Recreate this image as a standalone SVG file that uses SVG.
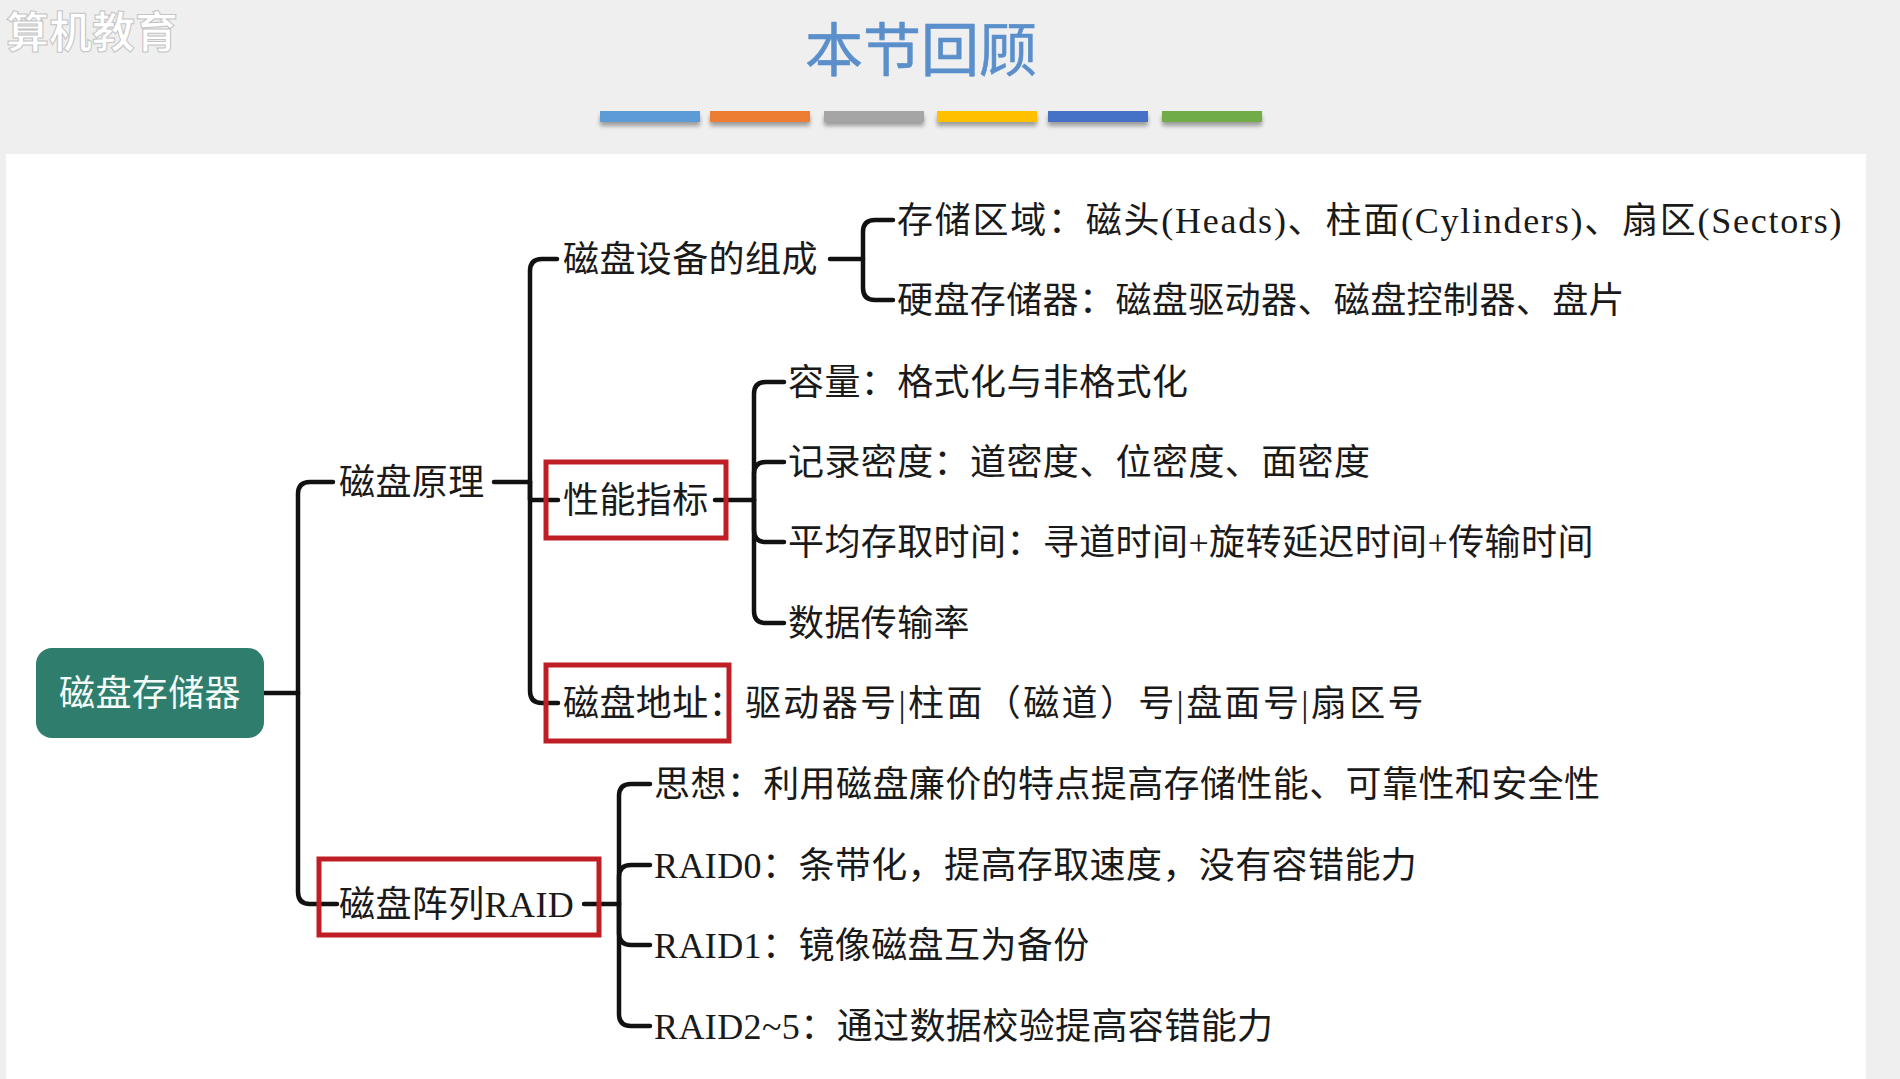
<svg xmlns="http://www.w3.org/2000/svg" width="1900" height="1079" viewBox="0 0 1900 1079">
<style>
.t{font-family:"Liberation Serif","Noto Sans CJK SC",serif;font-size:36px;fill:#1a1a1a;letter-spacing:0.4px}
.c{fill:none;stroke:#111;stroke-width:4.5;stroke-linecap:round;stroke-linejoin:round}
.box{fill:none;stroke:#bf1e24;stroke-width:5}
</style>
<defs>
<filter id="sh" x="-10%" y="-50%" width="120%" height="250%">
<feGaussianBlur in="SourceAlpha" stdDeviation="2"/>
<feOffset dy="4"/>
<feComponentTransfer><feFuncA type="linear" slope="0.35"/></feComponentTransfer>
<feMerge><feMergeNode/><feMergeNode in="SourceGraphic"/></feMerge>
</filter>
</defs>
<rect width="1900" height="1079" fill="#efefef"/>
<rect x="6" y="154" width="1860" height="925" fill="#ffffff"/>
<text x="6" y="48" style="font-family:'Noto Sans CJK SC',sans-serif;font-size:43px;font-weight:bold;fill:#ffffff;stroke:#c4c4c4;stroke-width:1">算机教育</text>
<text x="921" y="71" text-anchor="middle" style="font-family:'Noto Sans CJK SC',sans-serif;font-size:58px;fill:#5a8fcb;stroke:#5a8fcb;stroke-width:0.6">本节回顾</text>
<g id="bars" filter="url(#sh)">
<rect x="600" y="111" width="100" height="11" fill="#5b9bd5"/>
<rect x="710" y="111" width="100" height="11" fill="#ed7d31"/>
<rect x="824" y="111" width="100" height="11" fill="#a5a5a5"/>
<rect x="937" y="111" width="100" height="11" fill="#ffc000"/>
<rect x="1048" y="111" width="100" height="11" fill="#4472c4"/>
<rect x="1162" y="111" width="100" height="11" fill="#70ad47"/>
</g>
<g id="connectors">
<path class="c" d="M264,693 H298"/>
<path class="c" d="M298,693 V494 Q298,482 310,482 H333"/>
<path class="c" d="M298,693 V892 Q298,904 310,904 H337"/>
<path class="c" d="M494,482 H530"/>
<path class="c" d="M530,482 V271 Q530,259 542,259 H557"/>
<path class="c" d="M530,482 V500 H558"/>
<path class="c" d="M530,482 V691 Q530,703 542,703 H558"/>
<path class="c" d="M830,259 H863"/>
<path class="c" d="M863,259 V232 Q863,220 875,220 H893"/>
<path class="c" d="M863,259 V288 Q863,300 875,300 H893"/>
<path class="c" d="M715,500 H754"/>
<path class="c" d="M754,500 V394 Q754,382 766,382 H784"/>
<path class="c" d="M754,500 V474 Q754,462 766,462 H784"/>
<path class="c" d="M754,500 V530 Q754,542 766,542 H784"/>
<path class="c" d="M754,500 V611 Q754,623 766,623 H784"/>
<path class="c" d="M584,904 H619"/>
<path class="c" d="M619,904 V796 Q619,784 631,784 H650"/>
<path class="c" d="M619,904 V877 Q619,865 631,865 H650"/>
<path class="c" d="M619,904 V933 Q619,945 631,945 H650"/>
<path class="c" d="M619,904 V1014 Q619,1026 631,1026 H650"/>
</g>
<g id="root">
<rect x="36" y="648" width="228" height="90" rx="16" fill="#2f7e6d"/>
<text x="150" y="706" text-anchor="middle" class="t" style="fill:#f4fbf8;font-family:'Noto Sans CJK SC',sans-serif">磁盘存储器</text>
</g>
<g id="n-principle"><text class="t" x="339" y="495">磁盘原理</text></g>
<g id="n-raid">
<rect class="box" x="319" y="859" width="280" height="76"/>
<text class="t" x="339" y="917">磁盘阵列RAID</text>
</g>
<g id="n-compose"><text class="t" x="563" y="272">磁盘设备的组成</text></g>
<g id="n-perf">
<rect class="box" x="546" y="462" width="180" height="76"/>
<text class="t" x="563" y="513">性能指标</text>
</g>
<g id="n-addr">
<rect class="box" x="546" y="665" width="183" height="76"/>
<text class="t" x="563" y="716">磁盘地址：</text>
<text class="t" x="745" y="716" textLength="679" lengthAdjust="spacing">驱动器号|柱面（磁道）号|盘面号|扇区号</text>
</g>
<g id="n-area"><text class="t" x="897" y="233" textLength="945" lengthAdjust="spacing">存储区域：磁头(Heads)、柱面(Cylinders)、扇区(Sectors)</text></g>
<g id="n-hdd"><text class="t" x="897" y="313">硬盘存储器：磁盘驱动器、磁盘控制器、盘片</text></g>
<g id="n-cap"><text class="t" x="788" y="395">容量：格式化与非格式化</text></g>
<g id="n-dens"><text class="t" x="788" y="475">记录密度：道密度、位密度、面密度</text></g>
<g id="n-time"><text class="t" x="788" y="555">平均存取时间：寻道时间+旋转延迟时间+传输时间</text></g>
<g id="n-rate"><text class="t" x="788" y="636">数据传输率</text></g>
<g id="n-idea"><text class="t" x="654" y="797">思想：利用磁盘廉价的特点提高存储性能、可靠性和安全性</text></g>
<g id="n-raid0"><text class="t" x="654" y="878">RAID0：条带化，提高存取速度，没有容错能力</text></g>
<g id="n-raid1"><text class="t" x="654" y="958">RAID1：镜像磁盘互为备份</text></g>
<g id="n-raid25"><text class="t" x="654" y="1039">RAID2~5：通过数据校验提高容错能力</text></g>
</svg>
